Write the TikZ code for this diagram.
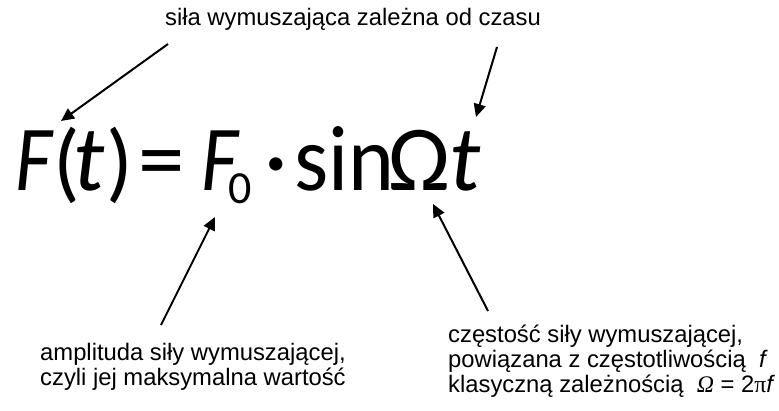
\documentclass[tikz,border=0pt]{standalone}
\usepackage{fontspec}
\setmainfont{Liberation Sans}
\newfontfamily\calib{Carlito}
\newfontfamily\symb{Liberation Serif}
\usetikzlibrary{arrows.meta}
\newcommand{\narrowF}{\scalebox{0.86}[1]{\textit{F}}}
\begin{document}
\begin{tikzpicture}[x=1pt,y=-1pt,
  lbl/.style={font=\fontsize{23.8}{25}\selectfont, inner sep=0, anchor=base west},
  eq/.style={font=\calib\fontsize{93}{93}\selectfont, inner sep=0, anchor=base west},
  par/.style={eq, font=\calib\fontsize{88}{88}\selectfont},
  arr/.style={line width=2pt, -{Triangle[length=13pt,width=12pt]}}]
\useasboundingbox (0,0) rectangle (779,410);
% labels
\node[lbl] (top) at (165,25) {siła wymuszająca zależna od czasu};
\node[lbl] (bl1) at (40,360) {amplituda siły wymuszającej,};
\node[lbl] (bl2) at (40,385) {czyli jej maksymalna wartość};
\node[lbl] (br1) at (448,342) {częstość siły wymuszającej,};
\node[lbl] (br2) at (448,367) {powiązana z częstotliwością \ \textit{f}};
\node[lbl] (br3) at (448,392) {klasyczną zależnością \ {\symb\itshape Ω} = 2{\symb π}\textit{f}};
% formula
\node[eq]  (F1)  at (15,190)  {\narrowF};
\node[par] (lp)  at (53,191)  {(};
\node[eq]  (t1)  at (73,190)  {\textit{t}};
\node[par] (rp)  at (106,191) {)};
\node[eq]  (eqs) at (138,190) {=};
\node[eq]  (F0)  at (201,190) {\narrowF};
\node[eq,font=\calib\fontsize{46}{46}\selectfont] (zero) at (228,203) {0};
\node[eq]  (dot) at (264,190) {·};
\node[eq]  (sin) at (294,190) {\scalebox{0.94}[1]{sin}};
\node[eq]  (Om)  at (388,190) {Ω};
\node[eq]  (t2)  at (449,190) {\textit{t}};
% arrow endpoints
\coordinate (a1s) at (168,44);  \coordinate (a1e) at (61,121);
\coordinate (a2s) at (497,47);  \coordinate (a2e) at (476,117);
\coordinate (a3s) at (161,325); \coordinate (a3e) at (215,217);
\coordinate (a4s) at (488,311); \coordinate (a4e) at (433,204);
\draw[arr] (a1s) -- (a1e);
\draw[arr] (a2s) -- (a2e);
\draw[arr] (a3s) -- (a3e);
\draw[arr] (a4s) -- (a4e);
\end{tikzpicture}
\end{document}
